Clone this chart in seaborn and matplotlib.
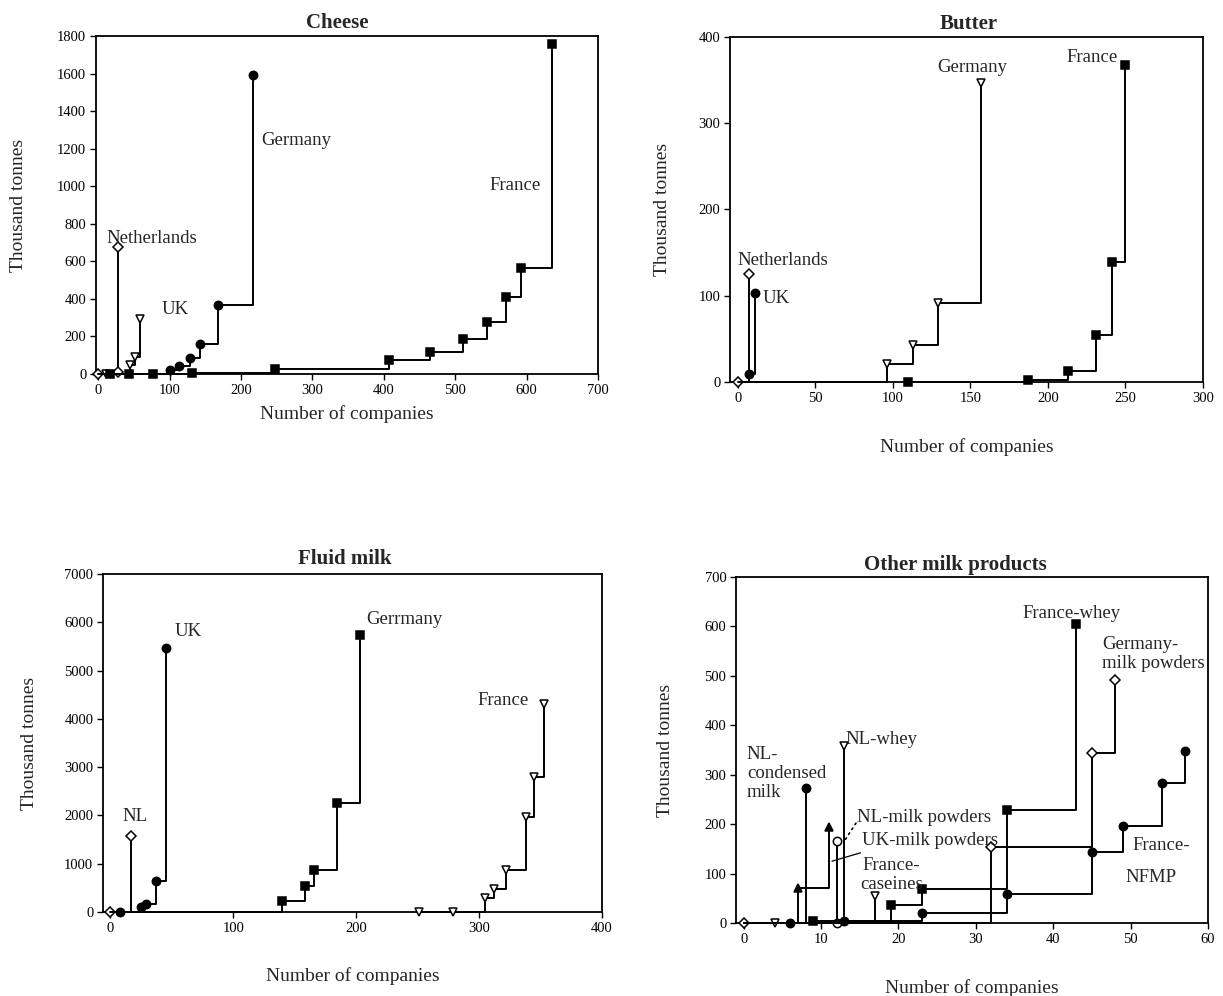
import matplotlib
matplotlib.use("Agg")
import matplotlib.pyplot as plt
import seaborn as sns

sns.set_style("ticks")
plt.rcParams['font.family'] = ['Liberation Serif', 'DejaVu Serif']

# ---------------- data ----------------
# Cheese
cheese_nl_x = [0, 28, 28]
cheese_nl_y = [0, 10, 674]
cheese_uk_x = [11, 44, 51, 59]
cheese_uk_y = [0, 46, 88, 294]
cheese_de_x = [101, 113, 128, 143, 168, 217]
cheese_de_y = [19, 40, 85, 160, 369, 1593]
cheese_fr_x = [17, 43, 77, 131, 248, 408, 465, 511, 545, 571, 592, 636]
cheese_fr_y = [0, 0, 2, 5, 28, 76, 117, 184, 278, 410, 567, 1760]

# Butter
butter_nl_x = [0, 7]
butter_nl_y = [0, 125]
butter_uk_x = [7, 11]
butter_uk_y = [9, 103]
butter_de_x = [96, 113, 129, 157]
butter_de_y = [21, 43, 92, 347]
butter_fr_x = [110, 187, 213, 231, 241, 250]
butter_fr_y = [0, 2, 13, 55, 139, 367]

# Fluid milk
fluid_nl_x = [0, 17]
fluid_nl_y = [0, 1584]
fluid_uk_x = [8, 25, 29, 37, 45]
fluid_uk_y = [0, 100, 170, 640, 5470]
fluid_de_x = [140, 158, 166, 184, 203]
fluid_de_y = [230, 530, 865, 2260, 5740]
fluid_fr_x = [251, 279, 305, 312, 322, 338, 345, 353]
fluid_fr_y = [0, 5, 290, 470, 880, 1960, 2800, 4300]

# Other milk products
nl_cond_x = [6, 8]
nl_cond_y = [0, 274]
uk_mp_x = [7, 11]
uk_mp_y = [70, 195]
nl_mp_x = [12, 12]
nl_mp_y = [0, 166]
nl_whey_x = [4, 13]
nl_whey_y = [0, 359]
fr_cas_x = [17]
fr_cas_y = [55]
fr_whey_x = [9, 19, 23, 34, 43]
fr_whey_y = [4, 36, 68, 228, 605]
fr_nfmp_x = [13, 23, 34, 45, 49, 54, 57]
fr_nfmp_y = [5, 21, 58, 143, 196, 284, 347]
de_mp_x = [0, 32, 45, 48]
de_mp_y = [0, 153, 343, 492]

TICK_FS = 10.5
LAB_FS = 14
ANN_FS = 13.5
TITLE_FS = 15


def step_series(ax, xs, ys, marker, filled=True, start=None, ms=6):
    lx, ly = list(xs), list(ys)
    every = list(range(len(xs)))
    if start is not None:
        lx = [start] + lx
        ly = [0] + ly
        every = [i + 1 for i in every]
    face = 'black' if filled else 'white'
    sns.lineplot(x=lx, y=ly, ax=ax, estimator=None, sort=False,
                 drawstyle='steps-post', color='black', lw=1.4,
                 marker=marker, markevery=every, markersize=ms,
                 markerfacecolor=face, markeredgecolor='black',
                 markeredgewidth=1.1, clip_on=False, zorder=3)


def style_axes(ax, xlim, ylim, xticks, yticks, title, title_x, xpad, ypad, tpad):
    ax.set_xlim(*xlim)
    ax.set_ylim(*ylim)
    ax.set_xticks(xticks)
    ax.set_yticks(yticks)
    ax.tick_params(direction='out', length=4, width=1, labelsize=TICK_FS,
                   top=False, right=False, colors='black', pad=3)
    for s in ax.spines.values():
        s.set_visible(True)
        s.set_linewidth(1.3)
        s.set_color('black')
    ax.set_xlabel("Number of companies", fontsize=LAB_FS, labelpad=xpad)
    ax.set_ylabel("Thousand tonnes", fontsize=LAB_FS, labelpad=ypad)
    ax.set_title(title, fontsize=TITLE_FS, fontweight='bold', x=title_x, pad=tpad)


fig = plt.figure(figsize=(12.23, 9.96), dpi=100)
W, H = 1223, 996


def axes_px(l, r, t, b):
    return fig.add_axes([l / W, 1 - b / H, (r - l) / W, (b - t) / H])


ax1 = axes_px(96, 598, 36, 374)
ax2 = axes_px(730, 1203, 37, 382)
ax3 = axes_px(103, 602, 574, 912)
ax4 = axes_px(736, 1208, 577, 923)

# ---------------- Cheese ----------------
step_series(ax1, cheese_nl_x, cheese_nl_y, 'D', filled=False, ms=5)
step_series(ax1, cheese_uk_x, cheese_uk_y, 'v', filled=False)
step_series(ax1, cheese_de_x, cheese_de_y, 'o', start=0)
step_series(ax1, cheese_fr_x, cheese_fr_y, 's', ms=5.5)
style_axes(ax1, (-3, 700), (0, 1800), range(0, 701, 100), range(0, 1801, 200),
           "Cheese", 0.48, 6, 22, 6)
ax1.text(11.8, 724, "Netherlands", fontsize=ANN_FS, ha='left', va='center')
ax1.text(89, 346, "UK", fontsize=ANN_FS, ha='left', va='center')
ax1.text(229, 1241, "Germany", fontsize=ANN_FS, ha='left', va='center')
ax1.text(620, 1002, "France", fontsize=ANN_FS, ha='right', va='center')

# ---------------- Butter ----------------
step_series(ax2, butter_nl_x, butter_nl_y, 'D', filled=False, ms=5)
step_series(ax2, butter_uk_x, butter_uk_y, 'o')
step_series(ax2, butter_de_x, butter_de_y, 'v', filled=False, start=0)
step_series(ax2, butter_fr_x, butter_fr_y, 's', ms=5.5)
style_axes(ax2, (-5, 300), (0, 400), range(0, 301, 50), range(0, 401, 100),
           "Butter", 0.505, 24, 20, 6)
ax2.text(0, 141, "Netherlands", fontsize=ANN_FS, ha='left', va='center')
ax2.text(16, 97, "UK", fontsize=ANN_FS, ha='left', va='center')
ax2.text(151.5, 365, "Germany", fontsize=ANN_FS, ha='center', va='center')
ax2.text(212, 376, "France", fontsize=ANN_FS, ha='left', va='center')

# ---------------- Fluid milk ----------------
step_series(ax3, fluid_nl_x, fluid_nl_y, 'D', filled=False, ms=5)
step_series(ax3, fluid_uk_x, fluid_uk_y, 'o')
step_series(ax3, fluid_de_x, fluid_de_y, 's', start=0, ms=5.5)
step_series(ax3, fluid_fr_x, fluid_fr_y, 'v', filled=False)
style_axes(ax3, (-6, 400), (0, 7000), range(0, 401, 100), range(0, 7001, 1000),
           "Fluid milk", 0.485, 23, 19, 7)
ax3.text(52.6, 5810, "UK", fontsize=ANN_FS, ha='left', va='center')
ax3.text(20, 1984, "NL", fontsize=ANN_FS, ha='center', va='center')
ax3.text(208, 6063, "Gerrmany", fontsize=ANN_FS, ha='left', va='center')
ax3.text(340, 4390, "France", fontsize=ANN_FS, ha='right', va='center')

# ---------------- Other milk products ----------------
step_series(ax4, de_mp_x, de_mp_y, 'D', filled=False, ms=5)
step_series(ax4, nl_whey_x, nl_whey_y, 'v', filled=False)
step_series(ax4, nl_cond_x, nl_cond_y, 'o')
step_series(ax4, uk_mp_x, uk_mp_y, '^', start=0)
step_series(ax4, nl_mp_x, nl_mp_y, 'o', filled=False)
step_series(ax4, fr_cas_x, fr_cas_y, 'v', filled=False, start=0)
step_series(ax4, fr_whey_x, fr_whey_y, 's', ms=5.5)
step_series(ax4, fr_nfmp_x, fr_nfmp_y, 'o', start=0)
style_axes(ax4, (-1, 60), (0, 700), range(0, 61, 10), range(0, 701, 100),
           "Other milk products", 0.464, 24, 22, 5)
ax4.text(0.4, 303, "NL-\ncondensed\nmilk", fontsize=ANN_FS, ha='left', va='center',
         multialignment='left', linespacing=1.15)
ax4.text(13.1, 371, "NL-whey", fontsize=ANN_FS, ha='left', va='center')
ax4.text(14.7, 214, "NL-milk powders", fontsize=ANN_FS, ha='left', va='center')
ax4.text(15.3, 166, "UK-milk powders", fontsize=ANN_FS, ha='left', va='center')
ax4.text(19.1, 97, "France-\ncaseines", fontsize=ANN_FS, ha='center', va='center',
         multialignment='center', linespacing=1.15)
ax4.text(42.3, 627, "France-whey", fontsize=ANN_FS, ha='center', va='center')
ax4.text(46.3, 545, "Germany-\nmilk powders", fontsize=ANN_FS, ha='left', va='center',
         multialignment='left', linespacing=1.15)
ax4.text(53.9, 157, "France-", fontsize=ANN_FS, ha='center', va='center')
ax4.text(52.7, 93, "NFMP", fontsize=ANN_FS, ha='center', va='center')
ax4.annotate("", xy=(11.4, 125), xytext=(15.1, 142),
             arrowprops=dict(arrowstyle='-', color='black', lw=0.9,
                             shrinkA=0, shrinkB=0))
ax4.annotate("", xy=(13.1, 168), xytext=(14.5, 202),
             arrowprops=dict(arrowstyle='-', color='black', lw=1.2, linestyle=(0, (1, 2.5)),
                             shrinkA=0, shrinkB=0))

fig.savefig("out.png", dpi=100, facecolor='white')
